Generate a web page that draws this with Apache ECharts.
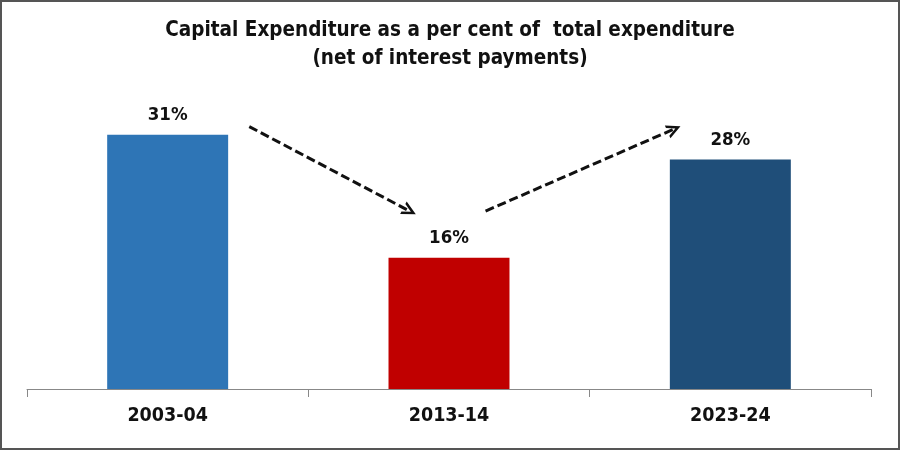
<!DOCTYPE html>
<html><head><meta charset="utf-8">
<script src="https://cdn.jsdelivr.net/npm/echarts@6/dist/echarts.min.js"></script>
<style>html,body{margin:0;padding:0;background:#fff}#c{width:900px;height:450px}</style>
</head><body><div id="c"></div>
<script>
const categories = ['2003-04', '2013-14', '2023-24'];
const values = [31, 16, 28];
const barColors = ['#2E75B6', '#C00000', '#1F4E79'];
const titleLines = ['Capital Expenditure as a per cent of  total expenditure', '(net of interest payments)'];
// arrow annotations in data space: [xPosition (category index units), yValue]
const arrowDown = [[0.29, 32], [0.86, 21.7]];
const arrowUp = [[1.13, 21.7], [1.80, 31.7]];

const FONT = '"Liberation Sans Narrow", "DejaVu Sans Condensed", "Open Sans", sans-serif';
const chart = echarts.init(document.getElementById('c'), null, {renderer: 'canvas'});
const chevron = 'path://M0,12 L6,0 L12,12 L9.6,12 L6,4.8 L2.4,12 Z';
chart.setOption({
  backgroundColor: '#fff',
  animation: false,
  title: {
    text: titleLines.join('\n'),
    left: 'center', top: 12,
    textStyle: {fontFamily: FONT, fontWeight: 'bold', fontSize: 20.5, color: '#111', lineHeight: 28}
  },
  grid: {left: 27, right: 29, top: 102, bottom: 61, containLabel: false},
  xAxis: [{
    type: 'category', data: categories,
    axisLine: {lineStyle: {color: '#888', width: 1}},
    axisTick: {show: true, alignWithLabel: false, length: 8, lineStyle: {color: '#888'}},
    axisLabel: {fontFamily: FONT, fontWeight: 'bold', fontSize: 19.5, color: '#111', margin: 17}
  }, {
    type: 'value', min: -0.5, max: 2.5, show: false
  }],
  yAxis: {type: 'value', min: 0, max: 35, show: false, splitLine: {show: false}},
  series: [{
    type: 'bar', barWidth: '43%', xAxisIndex: 0,
    data: values.map((v, i) => ({value: v, itemStyle: {color: barColors[i]}})),
    label: {show: true, position: 'top', distance: 10, formatter: p => p.value + '%',
      fontFamily: FONT, fontWeight: 'bold', fontSize: 18.5, color: '#111'}
  }, {
    type: 'scatter', xAxisIndex: 1, data: [], silent: true,
    markLine: {
      silent: true,
      symbol: ['none', chevron], symbolSize: [14, 14],
      label: {show: false},
      lineStyle: {color: '#111', width: 3, type: [9, 4]},
      data: [
        [{coord: arrowDown[0]}, {coord: arrowDown[1]}],
        [{coord: arrowUp[0]}, {coord: arrowUp[1]}]
      ]
    }
  }],
  graphic: [{
    type: 'rect', shape: {x: 1, y: 1, width: 898, height: 448},
    style: {fill: 'none', stroke: '#555', lineWidth: 2}, silent: true
  }]
});
</script></body></html>
